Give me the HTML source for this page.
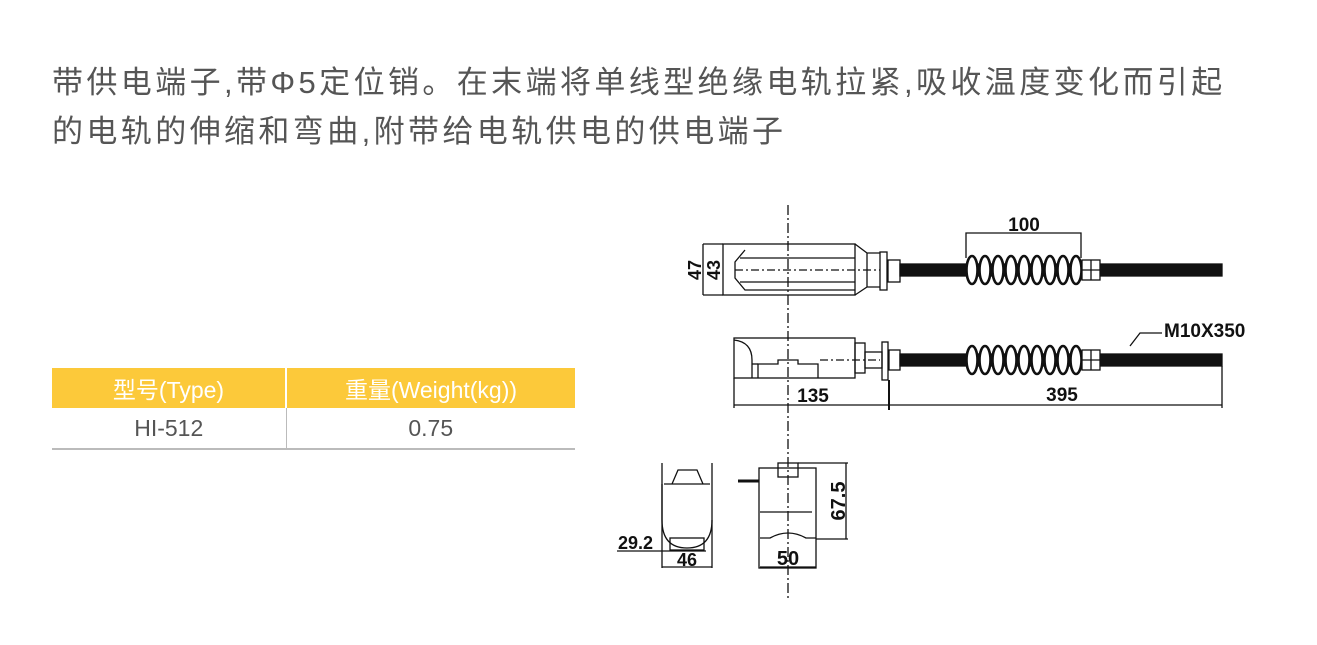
<!DOCTYPE html>
<html><head><meta charset="utf-8"><style>
body{margin:0;width:1317px;height:645px;background:#fff;position:relative;overflow:hidden;font-family:"Liberation Sans","Noto Sans CJK SC",sans-serif}
.t{position:absolute;left:52px;color:#555;font-size:31px;letter-spacing:3.4px;white-space:nowrap}
table{position:absolute;left:52px;top:368px;width:523px;border-collapse:collapse;font-size:23px}
th{background:#fcc93a;color:#fff;font-weight:normal;height:40px;padding:0;border-right:2px solid #fff}
td{height:40px;color:#555;text-align:center;border-bottom:2px solid #bbb;padding:0}
td:first-child{border-right:1px solid #bbb}
svg text{font-weight:bold}
</style></head><body>
<div class="t" style="top:57px">带供电端子,带Φ5定位销。在末端将单线型绝缘电轨拉紧,吸收温度变化而引起</div>
<div class="t" style="top:106px">的电轨的伸缩和弯曲,附带给电轨供电的供电端子</div>
<table><tr><th style="width:233px">型号(Type)</th><th style="border-right:none">重量(Weight(kg))</th></tr>
<tr><td>HI-512</td><td>0.75</td></tr></table>
<svg width="1317" height="645" style="position:absolute;left:0;top:0" fill="none" stroke="#111" stroke-width="1.3" font-family="Liberation Sans,sans-serif">
<line x1="788" y1="205" x2="788" y2="600" stroke-dasharray="10,3,2,3"/>
<!-- top view -->
<line x1="703" y1="244" x2="723" y2="244"/><line x1="703" y1="295" x2="723" y2="295"/><line x1="703" y1="244" x2="703" y2="295"/>
<rect x="723" y="244" width="132" height="51"/>
<path d="M855 244 L867 253 L880 253 M855 295 L867 287 L880 287 M867 253 V287"/>
<path d="M745 250 L735 262 V278 L745 290 H855"/><line x1="740" y1="258" x2="855" y2="258"/><line x1="740" y1="282" x2="855" y2="282"/>
<line x1="735" y1="270" x2="880" y2="270" stroke-dasharray="8,3,2,3"/>
<rect x="880" y="252" width="7" height="38"/><rect x="888" y="260" width="12" height="22"/>
<rect x="900" y="264" width="322" height="12" fill="#111"/>
<text x="0" y="0" font-size="18" fill="#111" stroke="none" transform="translate(701,270) rotate(-90)" text-anchor="middle">47</text>
<text x="0" y="0" font-size="18" fill="#111" stroke="none" transform="translate(720,270) rotate(-90)" text-anchor="middle">43</text>
<!-- spring top -->
<g stroke-width="2.6" fill="#fff">
<ellipse cx="972" cy="270" rx="5.5" ry="14"/><ellipse cx="985" cy="270" rx="5.5" ry="14"/><ellipse cx="998" cy="270" rx="5.5" ry="14"/><ellipse cx="1011" cy="270" rx="5.5" ry="14"/><ellipse cx="1024" cy="270" rx="5.5" ry="14"/><ellipse cx="1037" cy="270" rx="5.5" ry="14"/><ellipse cx="1050" cy="270" rx="5.5" ry="14"/><ellipse cx="1063" cy="270" rx="5.5" ry="14"/><ellipse cx="1076" cy="270" rx="5.5" ry="14"/>
</g>
<rect x="1082" y="260" width="18" height="20" fill="#fff"/><line x1="1091" y1="260" x2="1091" y2="280"/><line x1="1082" y1="270" x2="1100" y2="270"/>
<path d="M966 258 V233 H1081 V258"/>
<text x="1024" y="231" font-size="19" fill="#111" stroke="none" text-anchor="middle">100</text>
<!-- bottom view -->
<rect x="734" y="338" width="121" height="40"/>
<path d="M734 340 Q752 342 752 360 V378"/>
<path d="M758 378 V364 H778 V360 H798 V364 H818 V378"/><line x1="752" y1="364" x2="758" y2="364"/>
<line x1="820" y1="360" x2="880" y2="360" stroke-dasharray="8,3,2,3"/>
<rect x="855" y="343" width="10" height="30"/><rect x="865" y="352" width="17" height="16"/>
<rect x="882" y="342" width="6" height="38"/><rect x="889" y="350" width="11" height="20"/>
<rect x="900" y="354" width="322" height="12" fill="#111"/>
<g stroke-width="2.6" fill="#fff">
<ellipse cx="972" cy="360" rx="5.5" ry="14"/><ellipse cx="985" cy="360" rx="5.5" ry="14"/><ellipse cx="998" cy="360" rx="5.5" ry="14"/><ellipse cx="1011" cy="360" rx="5.5" ry="14"/><ellipse cx="1024" cy="360" rx="5.5" ry="14"/><ellipse cx="1037" cy="360" rx="5.5" ry="14"/><ellipse cx="1050" cy="360" rx="5.5" ry="14"/><ellipse cx="1063" cy="360" rx="5.5" ry="14"/><ellipse cx="1076" cy="360" rx="5.5" ry="14"/>
</g>
<rect x="1082" y="350" width="18" height="20" fill="#fff"/><line x1="1091" y1="350" x2="1091" y2="370"/><line x1="1082" y1="360" x2="1100" y2="360"/>
<line x1="734" y1="378" x2="734" y2="408"/><line x1="889" y1="380" x2="889" y2="410" stroke-width="2"/><line x1="1222" y1="366" x2="1222" y2="408"/>
<line x1="734" y1="405" x2="1222" y2="405"/>
<text x="813" y="402" font-size="19" fill="#111" stroke="none" text-anchor="middle">135</text>
<text x="1062" y="401" font-size="19" fill="#111" stroke="none" text-anchor="middle">395</text>
<path d="M1130 346 L1140 333 H1162"/>
<text x="1164" y="337" font-size="19" fill="#111" stroke="none">M10X350</text>
<!-- end view left -->
<path d="M662 463 V568 M712 463 V568"/>
<path d="M664 484 H710 M672 484 L678 470 H697 L703 484"/>
<path d="M662 484 V520 Q662 548 687 548 Q712 548 712 520"/>
<rect x="670" y="538" width="34" height="12"/>
<line x1="617" y1="551" x2="706" y2="551"/>
<text x="618" y="549" font-size="18" fill="#111" stroke="none">29.2</text>
<line x1="662" y1="567" x2="712" y2="567"/>
<text x="687" y="566" font-size="18" fill="#111" stroke="none" text-anchor="middle">46</text>
<!-- end view right -->
<rect x="759" y="468" width="57" height="100"/>
<rect x="778" y="463" width="20" height="14"/>
<line x1="738" y1="481" x2="759" y2="481" stroke-width="3"/>
<line x1="760" y1="512" x2="812" y2="512"/>
<path d="M760 538 H770 Q788 528 806 538 H816"/>
<line x1="798" y1="463" x2="848" y2="463"/><line x1="816" y1="539" x2="848" y2="539"/>
<line x1="846" y1="463" x2="846" y2="539"/>
<text x="0" y="0" font-size="20" fill="#111" stroke="none" transform="translate(845,501) rotate(-90)" text-anchor="middle">67.5</text>
<line x1="760" y1="567" x2="816" y2="567"/>
<text x="788" y="565" font-size="20" fill="#111" stroke="none" text-anchor="middle">50</text>
</svg>
</body></html>
